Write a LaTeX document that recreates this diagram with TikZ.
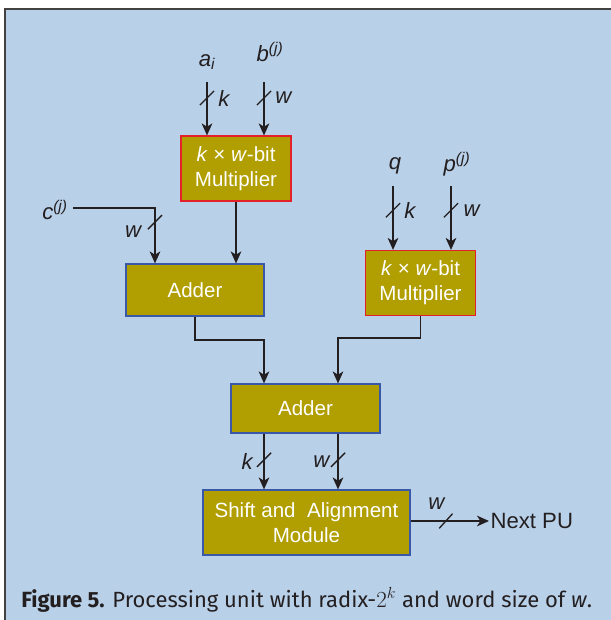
\documentclass[tikz,border=0pt]{standalone}
\usepackage{fontspec}
\setmainfont{Liberation Sans}
\newfontfamily\capfont{Fira Sans}
\usetikzlibrary{arrows.meta,decorations.markings}

\definecolor{panelblue}{RGB}{185,208,233}
\definecolor{boxolive}{RGB}{177,158,0}
\definecolor{wirecol}{RGB}{35,31,32}
\definecolor{multred}{RGB}{228,32,40}
\definecolor{addblue}{RGB}{58,88,168}

\newcommand{\boxfont}{\fontsize{15.4}{18.5}\selectfont}
\newcommand{\lblfont}{\fontsize{16.6}{19}\selectfont}

\tikzset{
  unit/.style={fill=boxolive, text=white, align=center, font=\boxfont, inner sep=0pt, line width=0.9pt},
  mult/.style={unit, draw=multred, minimum width=82.5pt, minimum height=48.75pt},
  adder/.style={unit, draw=addblue},
  wire/.style={draw=wirecol, line width=1pt, -{Stealth[length=9pt,width=8pt,inset=2.5pt]}},
  lbl/.style={text=wirecol, font=\lblfont\itshape, inner sep=1pt},
  busv/.style={postaction={decorate,decoration={markings,
    mark=at position #1 with {\draw[-, wirecol, line width=1pt] (5.3pt,-5.3pt) -- (-5.3pt,5.3pt);}}}},
  bush/.style={postaction={decorate,decoration={markings,
    mark=at position #1 with {\draw[-, wirecol, line width=1pt] (-5pt,-5.5pt) -- (5pt,5.5pt);}}}}
}

\begin{document}
\begin{tikzpicture}[x=0.75pt,y=-0.75pt]
\useasboundingbox (0,0) rectangle (610,620);
\fill[white] (0,0) rectangle (610,620);
\fill[panelblue] (5,9) rectangle (612,622);
\draw[line width=1.6pt, wirecol!85] (5,622) -- (5,9) -- (612,9);

% boxes
\node[mult] (mult1) at (236,168.5) {\textit{k} × \textit{w}-bit\\Multiplier};
\node[adder, minimum width=103.5pt, minimum height=39pt] (adder1) at (195,290) {Adder};
\node[mult] (mult2) at (420.5,283) {\textit{k} × \textit{w}-bit\\Multiplier};
\node[adder, minimum width=111.75pt, minimum height=36.75pt] (adder2) at (305.5,408.5) {Adder};
\node[adder, minimum width=155.25pt, minimum height=48.75pt] (shift) at (306.5,522.5) {Shift and~~Alignment\\Module};

% input labels
\node[lbl] (alab) at (207,62) {a\textsubscript{\textit{i}}};
\node[lbl] (blab) at (270,52) {b\textsuperscript{(\textit{j})}};
\node[lbl] (clab) at (55,210) {c\textsuperscript{(\textit{j})}};
\node[lbl] (qlab) at (395,166) {q};
\node[lbl] (plab) at (457,164) {p\textsuperscript{(\textit{j})}};
\node[text=wirecol, font=\lblfont, inner sep=1pt, anchor=west] (next) at (489,521) {Next PU};

% free wire ends
\coordinate (ain) at (207,82);
\coordinate (bin) at (264,82);
\coordinate (cin) at (73,208);
\coordinate (cdrop) at (155,0);
\coordinate (qin) at (393,186);
\coordinate (pin) at (451,186);
\coordinate (lft) at (264,0);
\coordinate (rgt) at (338,0);
\coordinate (midl) at (0,340);
\coordinate (midr) at (0,338);

% wires
\draw[wire, busv=.3] (ain) -- (mult1.north -| ain) node[lbl, pos=.3, right=7pt] {k};
\draw[wire, busv=.3] (bin) -- (mult1.north -| bin) node[lbl, pos=.3, right=7pt] {w};
\draw[wire, busv=.7] (cin) -| (adder1.north -| cdrop) node[lbl, pos=.71, left=9pt] {w};
\draw[wire] (mult1.south) -- (adder1.north -| mult1.south);
\draw[wire, busv=.38] (qin) -- (mult2.north -| qin) node[lbl, pos=.38, right=7pt] {k};
\draw[wire, busv=.38] (pin) -- (mult2.north -| pin) node[lbl, pos=.38, right=8pt] {w};
\draw[wire] (adder1.south) -- (adder1.south |- midl) -| (adder2.north -| lft);
\draw[wire] (mult2.south) -- (mult2.south |- midr) -| (adder2.north -| rgt);
\draw[wire, busv=.47] (adder2.south -| lft) -- (shift.north -| lft) node[lbl, pos=.5, left=7pt] {k};
\draw[wire, busv=.47] (adder2.south -| rgt) -- (shift.north -| rgt) node[lbl, pos=.5, left=5pt] {w};
\draw[wire, bush=.45] (shift.east |- next) -- (next.west) node[lbl, pos=.33, above=7pt] {w};

% caption
\node[anchor=west, text=wirecol, inner sep=0pt, font=\capfont\fontsize{16.5}{19}\selectfont] (cap) at (21,600)
  {\textbf{Figure 5.} Processing unit with radix-$2^k$ and word size of \textit{w}.};
\end{tikzpicture}
\end{document}
